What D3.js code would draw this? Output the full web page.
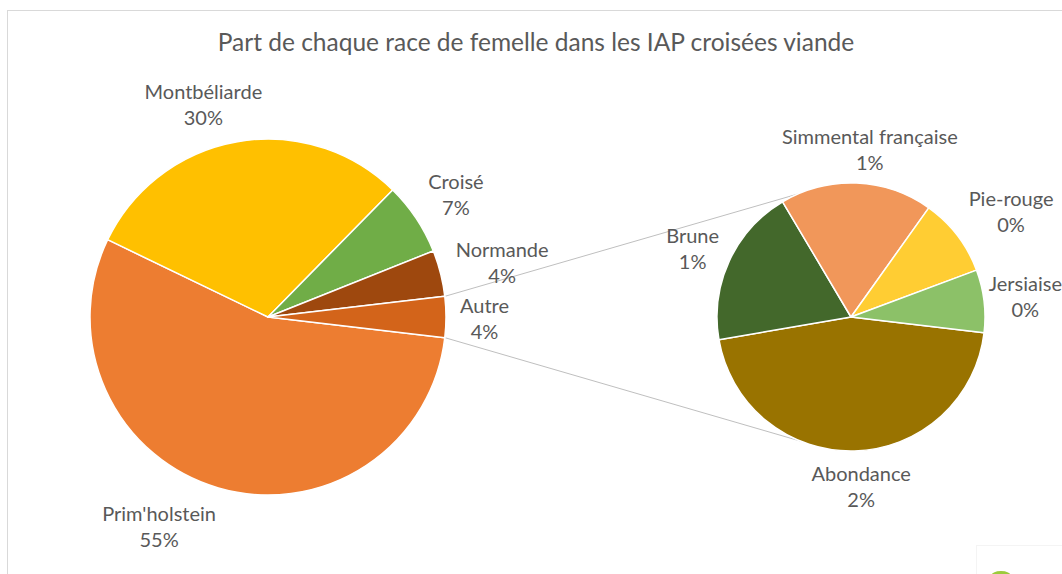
<!DOCTYPE html>
<html>
<head>
<meta charset="utf-8">
<script src="https://cdn.jsdelivr.net/npm/d3@7"></script>
<style>
  body { margin: 0; background: #fff; }
  svg text { font-family: Lato, "Open Sans", sans-serif; fill: #595959; }
</style>
</head>
<body>
<script>

// main pie (share of all inseminations, %)
var mainNames = ["Prim'holstein", "Montbéliarde", "Croisé", "Normande"];
var mainValues = [55.3, 30.2, 6.6, 4.2];
var otherName = "Autre";

// breakdown of "Autre" (share of all inseminations, %)
var subNames = ["Abondance", "Brune", "Simmental française", "Pie-rouge", "Jersiaise"];
var subValues = [1.68, 0.71, 0.68, 0.35, 0.28];

var title = "Part de chaque race de femelle dans les IAP croisées viande";

var mainColors = ["#ED7D31", "#FFC000", "#70AD47", "#9E480E", "#D3641A"];
var subColors = ["#997300", "#43682B", "#F1975A", "#FFCD33", "#8CC168"];

var width = 1062, height = 574;

var svg = d3.select("body").append("svg")
    .attr("width", width)
    .attr("height", height);

// chart frame (cut by the picture edge on right / bottom)
svg.append("rect")
    .attr("x", 7.5).attr("y", 10.5)
    .attr("width", 1100).attr("height", 600)
    .attr("fill", "#fff").attr("stroke", "#d9d9d9");

// small logo corner at the bottom right
svg.append("rect")
    .attr("x", 976.5).attr("y", 545.5).attr("width", 120).attr("height", 60)
    .attr("fill", "#fff").attr("stroke", "#f4f4f4");
svg.append("ellipse")
    .attr("cx", 1001).attr("cy", 576).attr("rx", 10).attr("ry", 5)
    .attr("fill", "#9BCB3C");

// title
svg.append("text")
    .attr("x", 536).attr("y", 51)
    .attr("text-anchor", "middle")
    .attr("font-size", "24.5px")
    .text(title);

var otherValue = d3.sum(subValues);
var mainData = mainNames.map(function(n, i) { return { name: n, value: mainValues[i] }; });
mainData.push({ name: otherName, value: otherValue });
var subData = subNames.map(function(n, i) { return { name: n, value: subValues[i] }; });

var total = d3.sum(mainData, function(d) { return d.value; });

var mainC = [268, 317], mainR = 178;
var subC = [851, 317], subR = 134;

// "Autre" is centred on 3 o'clock, the rest follows clockwise
var otherAngle = otherValue / total * 2 * Math.PI;
var mainStart = Math.PI / 2 + otherAngle / 2;

// Abondance centred near 6 o'clock in the second pie
var subStart = 178.5 * Math.PI / 180 - (subValues[0] / otherValue) * Math.PI;

var mainPie = d3.pie().sort(null).value(function(d) { return d.value; })
    .startAngle(mainStart).endAngle(mainStart + 2 * Math.PI);
var subPie = d3.pie().sort(null).value(function(d) { return d.value; })
    .startAngle(subStart).endAngle(subStart + 2 * Math.PI);

// label nudges so the labels sit where Excel "best fit" put them
var nudge = {
    "Prim'holstein": [-39.5, 3],
    "Montbéliarde": [-21.5, 1],
    "Croisé": [5, -2],
    "Normande": [3, -1],
    "Autre": [0, 2],
    "Abondance": [5, -2],
    "Brune": [0, 4],
    "Simmental française": [9, 5],
    "Pie-rouge": [9, 0],
    "Jersiaise": [-9, 1]
};

function polar(c, r, a) {
    return [c[0] + r * Math.sin(a), c[1] - r * Math.cos(a)];
}

function drawPie(arcs, colors, c, r) {
    var g = svg.append("g").attr("transform", "translate(" + c[0] + "," + c[1] + ")");
    var arc = d3.arc().innerRadius(0).outerRadius(r);
    g.selectAll("path").data(arcs).enter().append("path")
        .attr("d", arc)
        .attr("fill", function(d, i) { return colors[i]; })
        .attr("stroke", "#fff")
        .attr("stroke-width", 1.5)
        .attr("stroke-linejoin", "round");

    arcs.forEach(function(d) {
        var mid = (d.startAngle + d.endAngle) / 2;
        var t = svg.append("text").attr("text-anchor", "middle").attr("font-size", "20px");
        var l1 = t.append("tspan").text(d.data.name);
        var l2 = t.append("tspan").text(Math.round(d.data.value / total * 100) + "%");
        var w = Math.max(l1.node().getComputedTextLength(), l2.node().getComputedTextLength());
        var h = 48;
        var p = polar(c, r + 14, mid);
        var n = nudge[d.data.name] || [0, 0];
        var cx = p[0] + Math.sin(mid) * w / 2 + n[0];
        var cy = p[1] - Math.cos(mid) * h / 2 + n[1];
        l1.attr("x", cx).attr("y", cy - 13 + 7);
        l2.attr("x", cx).attr("y", cy + 13 + 7);
    });
}

var mainArcs = mainPie(mainData);
var subArcs = subPie(subData);

// connector lines from the "Autre" slice to the second pie
var otherArc = mainArcs[mainArcs.length - 1];
var connEnds = [-23.4 * Math.PI / 180, 202.2 * Math.PI / 180];
[otherArc.startAngle, otherArc.endAngle].forEach(function(a, i) {
    var p0 = polar(mainC, mainR, a);
    var p1 = polar(subC, subR, connEnds[i]);
    svg.append("line")
        .attr("x1", p0[0]).attr("y1", p0[1])
        .attr("x2", p1[0]).attr("y2", p1[1])
        .attr("stroke", "#bfbfbf").attr("stroke-width", 1);
});

drawPie(mainArcs, mainColors, mainC, mainR);
drawPie(subArcs, subColors, subC, subR);

</script>
</body>
</html>
